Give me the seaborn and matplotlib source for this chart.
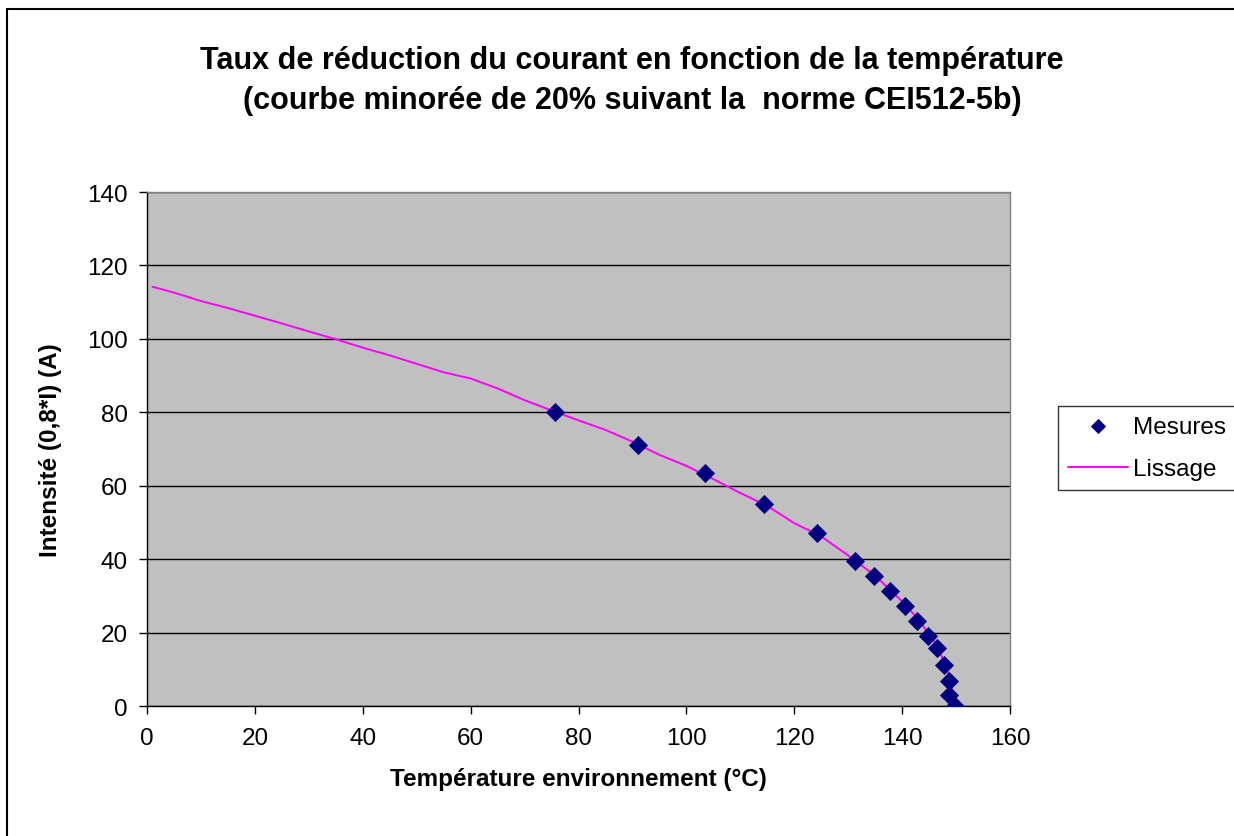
import numpy as np
import pandas as pd
import matplotlib
matplotlib.use('Agg')
import matplotlib.pyplot as plt
from matplotlib.lines import Line2D
import seaborn as sns

# Measured points
mes_temp = [75.6, 91.0, 103.4, 114.3, 124.3, 131.3, 134.8, 137.8, 140.5, 142.8,
            144.8, 146.4, 147.8, 148.7, 148.6, 149.8]
mes_int = [80.0, 71.0, 63.4, 55.1, 47.2, 39.5, 35.4, 31.4, 27.3, 23.2,
           19.1, 15.7, 11.2, 6.9, 3.0, 0.0]

# Smoothed curve
lis_temp = [1, 5, 10, 15, 20, 25, 30, 35, 40, 45, 50, 55, 60, 65, 70, 75, 80, 85,
            90, 95, 100, 105, 110, 115, 120, 125, 130, 135, 140, 143, 146, 148,
            149, 149.5, 150]
lis_int = [114.2, 112.6, 110.3, 108.4, 106.3, 104.2, 102.0, 99.9, 97.6, 95.5,
           93.2, 90.9, 89.2, 86.5, 83.3, 80.5, 77.8, 75.2, 72.0, 68.4, 65.4,
           61.8, 58.0, 54.5, 49.8, 46.2, 41.0, 35.5, 28.5, 23.6, 17.5, 11.5,
           6.5, 2.5, 0.0]

x_ticks = [0, 20, 40, 60, 80, 100, 120, 140, 160]
y_ticks = [0, 20, 40, 60, 80, 100, 120, 140]

df_mes = pd.DataFrame({'T': mes_temp, 'I': mes_int})
df_lis = pd.DataFrame({'T': lis_temp, 'I': lis_int})

sns.set_style('white')
plt.rcParams['font.family'] = ['Liberation Sans', 'DejaVu Sans']
plt.rcParams['text.color'] = 'black'
plt.rcParams['axes.labelcolor'] = 'black'
plt.rcParams['xtick.color'] = 'black'
plt.rcParams['ytick.color'] = 'black'

fig = plt.figure(figsize=(12.34, 8.37), dpi=100)
ax = fig.add_axes([147/1234, 1 - 707/837, (1010 - 147)/1234, (707 - 193)/837])
ax.set_facecolor('#C0C0C0')

sns.lineplot(data=df_lis, x='T', y='I', color='#FF00FF', linewidth=1.4,
             sort=False, ax=ax, label='Lissage', zorder=3)
sns.scatterplot(data=df_mes, x='T', y='I', marker='D', color='#000080', s=95,
                edgecolor='#000080', linewidth=0, ax=ax, label='Mesures', zorder=4)

ax.set_xlim(0, 160)
ax.set_ylim(0, 140)
ax.set_xticks(x_ticks)
ax.set_yticks(y_ticks)
ax.tick_params(axis='both', labelsize=17.5, length=6, width=1, direction='out',
               colors='black', bottom=True, left=True)
ax.tick_params(axis='x', pad=9)
ax.tick_params(axis='y', pad=8)
ax.yaxis.grid(True, color='black', linewidth=1)
ax.xaxis.grid(False)
ax.set_axisbelow(True)
for side in ['left', 'bottom']:
    ax.spines[side].set_color('black')
    ax.spines[side].set_linewidth(1)
for side in ['top', 'right']:
    ax.spines[side].set_color('#808080')
    ax.spines[side].set_linewidth(1)

ax.set_xlabel('Température environnement (°C)', fontsize=17.5, fontweight='bold', labelpad=13)
ax.set_ylabel('Intensité (0,8*I) (A)', fontsize=17.5, fontweight='bold', labelpad=18)

fig.text(632/1234, 1 - 81/837,
         'Taux de réduction du courant en fonction de la température\n'
         '(courbe minorée de 20% suivant la  norme CEI512-5b)',
         ha='center', va='center', fontsize=22, fontweight='bold', linespacing=1.45)

handles, labels = ax.get_legend_handles_labels()
order = [labels.index('Mesures'), labels.index('Lissage')]
leg = ax.legend([handles[i] for i in order], [labels[i] for i in order],
                loc='upper left', bbox_to_anchor=(1058/1234, 1 - 407/837),
                bbox_transform=fig.transFigure, fontsize=17.5, frameon=True,
                fancybox=False, edgecolor='black', borderpad=0.4,
                handlelength=2.5, handletextpad=0.2, labelspacing=0.85,
                borderaxespad=0, markerscale=0.8)
leg.get_frame().set_linewidth(1)

# outer chart border
fig.add_artist(Line2D([7/1234, 7/1234], [0, 1 - 10/837], color='black', linewidth=1.5))
fig.add_artist(Line2D([7/1234, 1], [1 - 10/837, 1 - 10/837], color='black', linewidth=1.5))

fig.savefig('out.png', dpi=100)
